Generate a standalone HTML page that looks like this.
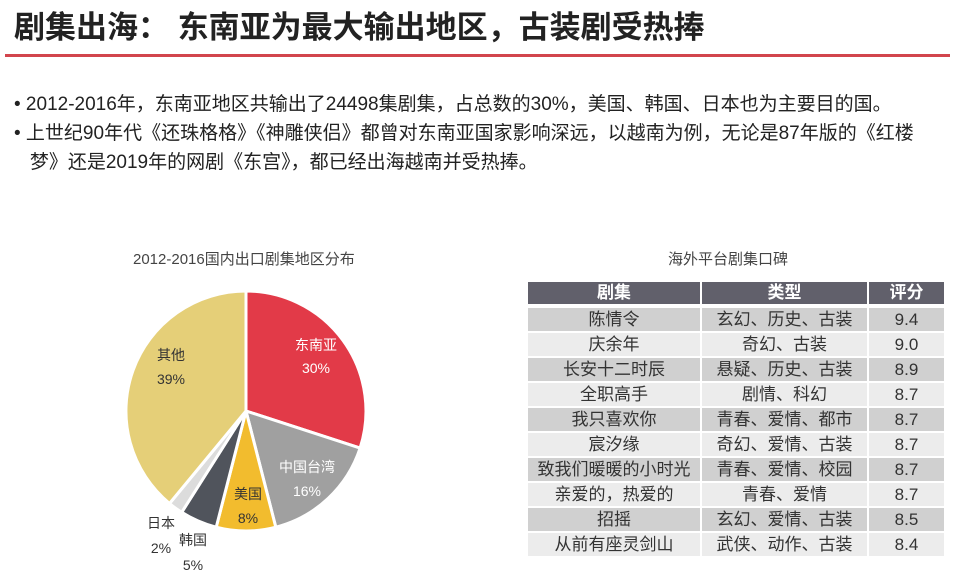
<!DOCTYPE html>
<html><head><meta charset="utf-8"><style>
body{margin:0;width:956px;height:579px;background:#fff;font-family:"Liberation Sans","Noto Sans CJK SC",sans-serif;position:relative;overflow:hidden;color:#222}
.t{position:absolute;white-space:nowrap}
.row{position:absolute;left:528px;width:416px;height:23px;font-size:17px;color:#333;line-height:23px}
.row div{position:absolute;top:0;height:23px;text-align:center}
.c1{left:0;width:172px}.c2{left:174px;width:165px}.c3{left:341px;width:75px}
.o div{background:#d0d0d0}.e div{background:#ececec}
.h div{background:#61606b;color:#fff;font-weight:bold;height:22px;line-height:22px}
</style></head><body>
<div class="t" style="left:14px;top:2px;font-size:31px;font-weight:bold;color:#222">剧集出海： 东南亚为最大输出地区，古装剧受热捧</div>
<div style="position:absolute;left:5px;top:54px;width:945px;height:3px;background:#d2454d"></div>
<div class="t" style="left:14px;top:90px;font-size:19px;line-height:29px;color:#222">
• 2012-2016年，东南亚地区共输出了24498集剧集，占总数的30%，美国、韩国、日本也为主要目的国。<br>
• 上世纪90年代《还珠格格》《神雕侠侣》都曾对东南亚国家影响深远，以越南为例，无论是87年版的《红楼<br>
&nbsp;&nbsp;&nbsp;梦》还是2019年的网剧《东宫》，都已经出海越南并受热捧。</div>
<div class="t" style="left:133px;top:248px;font-size:15px;color:#444">2012-2016国内出口剧集地区分布</div>
<div class="t" style="left:668px;top:248px;font-size:15px;color:#444">海外平台剧集口碑</div>
<svg width="956" height="579" style="position:absolute;left:0;top:0">
<g stroke="#fff" stroke-width="3">
<path d="M246,411 L246,291 A120,120 0 0 1 360.1,448.1 Z" fill="#e23a48"/>
<path d="M246,411 L360.1,448.1 A120,120 0 0 1 275.8,527.2 Z" fill="#a0a0a0"/>
<path d="M246,411 L275.8,527.2 A120,120 0 0 1 216.2,527.2 Z" fill="#f2bc2e"/>
<path d="M246,411 L216.2,527.2 A120,120 0 0 1 181.7,512.3 Z" fill="#50545c"/>
<path d="M246,411 L181.7,512.3 A120,120 0 0 1 169.5,503.5 Z" fill="#dcdcdc"/>
<path d="M246,411 L169.5,503.5 A120,120 0 0 1 246,291 Z" fill="#e5cf78"/>
</g>
<g font-size="14" text-anchor="middle" font-family="Liberation Sans,Noto Sans CJK SC,sans-serif">
<text x="316" y="350" fill="#fff">东南亚</text><text x="316" y="373" fill="#fff">30%</text>
<text x="307" y="472" fill="#fff">中国台湾</text><text x="307" y="496" fill="#fff">16%</text>
<text x="248" y="499" fill="#333">美国</text><text x="248" y="523" fill="#333">8%</text>
<text x="171" y="360" fill="#333">其他</text><text x="171" y="384" fill="#333">39%</text>
<text x="161" y="528" fill="#333">日本</text><text x="161" y="553" fill="#333">2%</text>
<text x="193" y="545" fill="#333">韩国</text><text x="193" y="570" fill="#333">5%</text>
</g></svg>
<div class="row h" style="top:282px"><div class="c1">剧集</div><div class="c2">类型</div><div class="c3">评分</div></div>
<div class="row o" style="top:308px"><div class="c1">陈情令</div><div class="c2">玄幻、历史、古装</div><div class="c3">9.4</div></div>
<div class="row e" style="top:333px"><div class="c1">庆余年</div><div class="c2">奇幻、古装</div><div class="c3">9.0</div></div>
<div class="row o" style="top:358px"><div class="c1">长安十二时辰</div><div class="c2">悬疑、历史、古装</div><div class="c3">8.9</div></div>
<div class="row e" style="top:383px"><div class="c1">全职高手</div><div class="c2">剧情、科幻</div><div class="c3">8.7</div></div>
<div class="row o" style="top:408px"><div class="c1">我只喜欢你</div><div class="c2">青春、爱情、都市</div><div class="c3">8.7</div></div>
<div class="row e" style="top:433px"><div class="c1">宸汐缘</div><div class="c2">奇幻、爱情、古装</div><div class="c3">8.7</div></div>
<div class="row o" style="top:458px"><div class="c1">致我们暖暖的小时光</div><div class="c2">青春、爱情、校园</div><div class="c3">8.7</div></div>
<div class="row e" style="top:483px"><div class="c1">亲爱的，热爱的</div><div class="c2">青春、爱情</div><div class="c3">8.7</div></div>
<div class="row o" style="top:508px"><div class="c1">招摇</div><div class="c2">玄幻、爱情、古装</div><div class="c3">8.5</div></div>
<div class="row e" style="top:533px"><div class="c1">从前有座灵剑山</div><div class="c2">武侠、动作、古装</div><div class="c3">8.4</div></div>
</body></html>
